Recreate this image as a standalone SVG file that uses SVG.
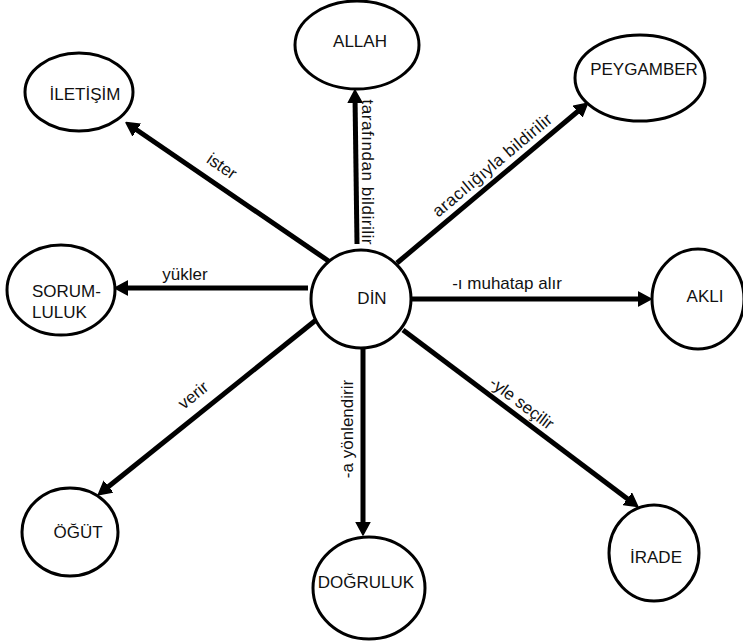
<svg xmlns="http://www.w3.org/2000/svg" width="743" height="642" viewBox="0 0 743 642">
<style>
.node{fill:#fff;stroke:#000;stroke-width:3}
.lbl{font-family:"Liberation Sans",Arial,sans-serif;font-size:17px;fill:#111;text-anchor:middle}
.elbl{font-family:"Liberation Sans",Arial,sans-serif;font-size:17px;fill:#111;text-anchor:middle}
.edge{stroke:#000;stroke-width:5;fill:none}
</style>
<defs>
<marker id="ah" markerUnits="userSpaceOnUse" markerWidth="14" markerHeight="16" refX="7" refY="8" orient="auto">
<path d="M0,1 L13,8 L0,15 z" fill="#000" stroke="#000" stroke-width="1.5" stroke-linejoin="round"/>
</marker>
</defs>
<rect width="743" height="642" fill="#fff"/>
<g id="connectors">
<line class="edge" x1="357" y1="244" x2="355" y2="96" marker-end="url(#ah)"/>
<line class="edge" x1="397" y1="263" x2="583" y2="107" marker-end="url(#ah)"/>
<line class="edge" x1="330" y1="262" x2="131" y2="126" marker-end="url(#ah)"/>
<line class="edge" x1="308" y1="288" x2="121" y2="288" marker-end="url(#ah)"/>
<line class="edge" x1="411" y1="299" x2="645" y2="299" marker-end="url(#ah)"/>
<line class="edge" x1="403" y1="330" x2="633" y2="503" marker-end="url(#ah)"/>
<line class="edge" x1="363" y1="348" x2="363" y2="529" marker-end="url(#ah)"/>
<line class="edge" x1="316" y1="320" x2="103" y2="491" marker-end="url(#ah)"/>
<text class="elbl" x="368" y="172" dy="0.35em" transform="rotate(90 368 172)" textLength="145">tarafından bildirilir</text>
<text class="elbl" x="492" y="165" dy="0.35em" transform="rotate(-40 492 165)" textLength="150">aracılığıyla bildirilir</text>
<text class="elbl" x="222" y="166" dy="0.35em" transform="rotate(34.4 222 166)">ister</text>
<text class="elbl" x="185" y="280">yükler</text>
<text class="elbl" x="507" y="289">-ı muhatap alır</text>
<text class="elbl" x="522" y="403" dy="0.35em" transform="rotate(37 522 403)">-yle seçilir</text>
<text class="elbl" x="347" y="429" dy="0.35em" transform="rotate(-90 347 429)">-a yönlendirir</text>
<text class="elbl" x="193" y="395" dy="0.35em" transform="rotate(-38.7 193 395)">verir</text>
</g>
<g id="din"><ellipse class="node" cx="361" cy="299" rx="50" ry="49"/><text class="lbl" x="372" y="304">DİN</text></g>
<g id="allah"><ellipse class="node" cx="357" cy="45" rx="62" ry="44"/><text class="lbl" x="360" y="47">ALLAH</text></g>
<g id="peygamber"><ellipse class="node" cx="640" cy="78" rx="65" ry="43"/><text class="lbl" x="644" y="75">PEYGAMBER</text></g>
<g id="iletisim"><ellipse class="node" cx="79" cy="92" rx="54" ry="39"/><text class="lbl" x="85" y="100">İLETİŞİM</text></g>
<g id="sorumluluk"><ellipse class="node" cx="61" cy="290" rx="54" ry="45"/><text class="lbl" x="32" y="297" style="text-anchor:start">SORUM-</text><text class="lbl" x="32" y="318" style="text-anchor:start">LULUK</text></g>
<g id="akli"><ellipse class="node" cx="698" cy="299" rx="46" ry="50"/><text class="lbl" x="705" y="302">AKLI</text></g>
<g id="irade"><ellipse class="node" cx="654" cy="553" rx="45" ry="48"/><text class="lbl" x="656" y="563">İRADE</text></g>
<g id="ogut"><ellipse class="node" cx="70" cy="532" rx="48" ry="44"/><text class="lbl" x="78" y="538">ÖĞÜT</text></g>
<g id="dogruluk"><ellipse class="node" cx="369" cy="588" rx="56" ry="51"/><text class="lbl" x="366" y="588">DOĞRULUK</text></g>
</svg>
